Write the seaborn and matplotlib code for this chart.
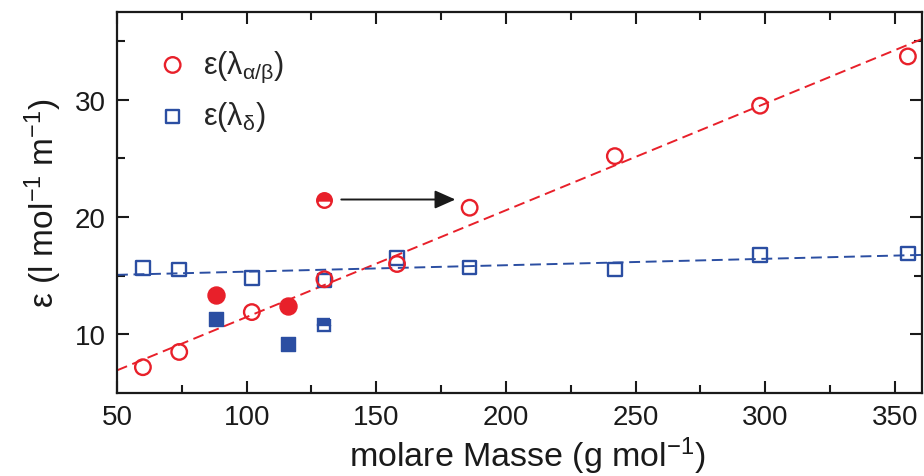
import numpy as np
import pandas as pd
import matplotlib
matplotlib.use("Agg")
import matplotlib.pyplot as plt
import seaborn as sns

# molar masses (g/mol) of the series
mass = [60, 74, 102, 130, 158, 186, 242, 298, 355]
eps_ab = [7.2, 8.5, 11.9, 14.7, 16.0, 20.8, 25.2, 29.5, 33.7]
eps_d = [15.65, 15.55, 14.8, 14.6, 16.5, 15.7, 15.55, 16.75, 16.9]

# separate (filled) points
mass_extra = [88, 116]
eps_ab_extra = [13.35, 12.4]
eps_d_extra = [11.35, 9.15]

# half-filled points
mass_half = [130]
eps_ab_half = [21.5]
eps_d_half = [10.8]

# arrow target on the mass axis
mass_arrow_end = 180.5

RED = "#E8202A"
BLUE = "#2B4EA2"
INK = "#1a1a1a"

sns.set_theme(style="ticks")
plt.rcParams["font.family"] = ["Liberation Sans", "DejaVu Sans"]
plt.rcParams["mathtext.fontset"] = "custom"
plt.rcParams["mathtext.rm"] = "Liberation Sans"
plt.rcParams["mathtext.it"] = "Liberation Sans:italic"
plt.rcParams["mathtext.default"] = "regular"

df = pd.DataFrame({"mass": mass, "ab": eps_ab, "d": eps_d})

fig = plt.figure(figsize=(9.24, 4.77), dpi=100)
ax = fig.add_axes([0.1266, 0.174, 0.8714, 0.799])
ax.set_xlim(50, 360.5)
ax.set_ylim(5, 37.5)

# linear fits across the whole axis range
dash = (0, (5.6, 2.9))
sns.regplot(data=df, x="mass", y="ab", scatter=False, ci=None, truncate=False,
            ax=ax, line_kws=dict(color=RED, lw=1.4, ls=dash))
sns.regplot(data=df, x="mass", y="d", scatter=False, ci=None, truncate=False,
            ax=ax, line_kws=dict(color=BLUE, lw=1.4, ls=dash))

# open markers
sns.scatterplot(data=df, x="mass", y="d", ax=ax, marker="s", s=95,
                facecolor="none", edgecolor=BLUE, linewidth=1.7, zorder=3,
                label=r"ε(λ$_{δ}$)")
sns.scatterplot(data=df, x="mass", y="ab", ax=ax, marker="o", s=125,
                facecolor="none", edgecolor=RED, linewidth=1.7, zorder=3,
                label=r"ε(λ$_{α/β}$)")

# filled markers
sns.scatterplot(x=mass_extra, y=eps_ab_extra, ax=ax, marker="o", s=150,
                color=RED, edgecolor=RED, linewidth=1.0, zorder=3, legend=False)
sns.scatterplot(x=mass_extra, y=eps_d_extra, ax=ax, marker="s", s=110,
                color=BLUE, edgecolor=BLUE, linewidth=1.0, zorder=3, legend=False)

# half-filled markers
ax.plot(mass_half, eps_ab_half, ls="none", marker="o", ms=10.5, mew=1.7,
        color=RED, mec=RED, fillstyle="top", markerfacecoloralt="white", zorder=3)
ax.plot(mass_half, eps_d_half, ls="none", marker="s", ms=9, mew=1.7,
        color=BLUE, mec=BLUE, fillstyle="top", markerfacecoloralt="white", zorder=3)

# arrow from the half-filled point towards the shifted value
ax.annotate("", xy=(mass_arrow_end, eps_ab_half[0]), xytext=(136.5, eps_ab_half[0]),
            arrowprops=dict(arrowstyle="-|>,head_length=0.45,head_width=0.2",
                            color=INK, lw=1.4, mutation_scale=28,
                            shrinkA=0, shrinkB=0))

# legend: circle first, then square
handles, labels = ax.get_legend_handles_labels()
order = [1, 0]
leg = ax.legend([handles[i] for i in order], [labels[i] for i in order],
                loc="upper left", bbox_to_anchor=(0.035, 0.935), frameon=False,
                fontsize=22, handletextpad=0.5, labelspacing=0.5,
                handlelength=1.0, borderaxespad=0)

ax.set_xticks([50, 100, 150, 200, 250, 300, 350])
ax.set_xticks([75, 125, 175, 225, 275, 325], minor=True)
ax.set_yticks([10, 20, 30])
ax.set_yticks([15, 25, 35], minor=True)

ax.tick_params(which="both", direction="in", top=True, right=True,
               width=1.5, color=INK, labelsize=20, pad=8)
ax.tick_params(which="major", length=8.5)
ax.tick_params(which="minor", length=5.5)
for sp in ax.spines.values():
    sp.set_linewidth(1.6)
    sp.set_color(INK)
    sp.set_visible(True)

ax.set_xlabel(r"molare Masse (g mol$^{-1}$)", fontsize=24.5, labelpad=3,
              color=INK)
ax.xaxis.label.set_x(0.51)
ax.set_ylabel(r"ε (l mol$^{-1}$ m$^{-1}$)", fontsize=24, labelpad=8,
              color=INK)
for t in ax.get_xticklabels() + ax.get_yticklabels():
    t.set_color(INK)

fig.savefig("out.png", dpi=100)
